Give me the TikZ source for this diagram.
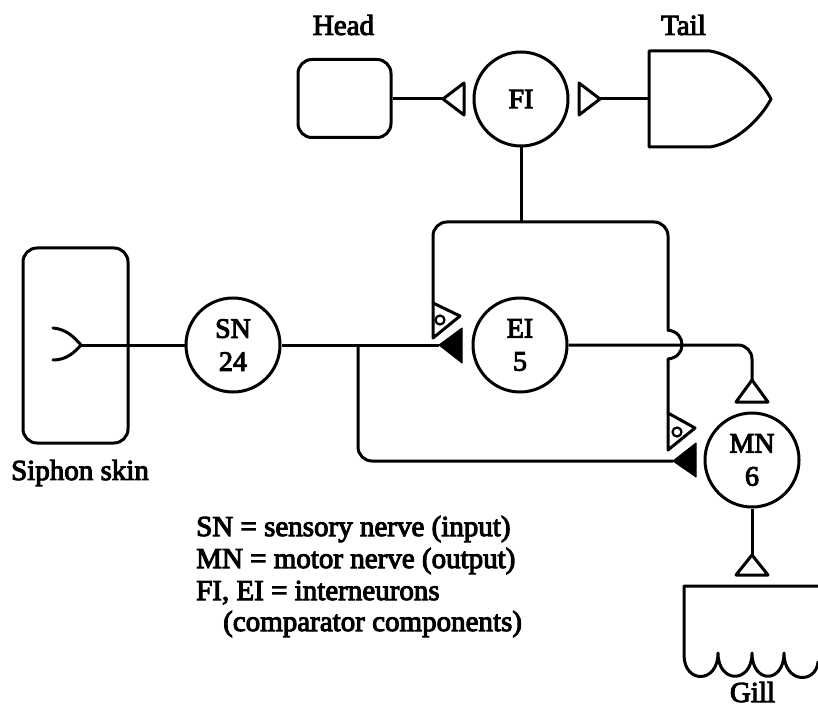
\documentclass[tikz,border=0pt]{standalone}
\usepackage{fontspec}
\setmainfont{Liberation Serif}[FakeBold=3.5]
\newcommand{\nudged}[1]{\raisebox{-2pt}{#1}}
\tikzset{
  ln/.style={line width=3pt,line join=round},
  neuron/.style={circle,draw,line width=3pt,minimum size=94pt,inner sep=0pt,align=center,font=\fontsize{28}{33}\selectfont},
  organ/.style={draw,line width=3pt,rounded corners=14pt,inner sep=0pt},
  lab/.style={inner sep=0pt,font=\fontsize{29}{34}\selectfont},
  opent/.style={draw,line width=3pt,line join=round},
  solidt/.style={fill=black,draw,line width=1pt,line join=round},
  dot/.style={circle,draw,line width=2.2pt,minimum size=9pt,inner sep=0pt}
}
\begin{document}
\begin{tikzpicture}[x=1pt,y=-1pt]
\useasboundingbox (0,0) rectangle (818,708);
% neurons
\node[neuron] (FI) at (521,99) {\nudged{FI}};
\node[neuron] (EI) at (520,345) {\nudged{EI}\\\nudged{5}};
\node[neuron] (SN) at (233,345) {\nudged{SN}\\\nudged{24}};
\node[neuron] (MN) at (752,460) {\nudged{MN}\\\nudged{6}};
% organs
\node[organ,minimum width=93pt,minimum height=78pt] (head) at (344.5,98.5) {};
\node[organ,minimum width=105pt,minimum height=195pt] (skin) at (75.5,345.5) {};
% labels
\node[lab] (lhead) at (343.5,25) {Head};
\node[lab] (ltail) at (683.5,25) {Tail};
\node[lab] (lskin) at (80,473) {Siphon skin};
\node[lab,anchor=base] (lgill) at (752.5,702) {Gill};
\node[lab,anchor=base west] (k1) at (196,536) {SN = sensory nerve (input)};
\node[lab,anchor=base west] (k2) at (196,568) {MN = motor nerve (output)};
\node[lab,anchor=base west] (k3) at (196,600) {FI, EI = interneurons};
\node[lab,anchor=base west] (k4) at (223,631) {(comparator components)};
% tail
\coordinate (tailw) at (649,99);
\draw[ln] (649,51) -- (710,51) .. controls (735,55) and (760,78) .. (771,99) .. controls (760,120) and (735,143) .. (710,147) -- (649,147) -- cycle;
% gill
\draw[ln,line cap=round] (818,586) -- (684,586) -- (684,655)
  .. controls (684,684) and (718,684) .. (718,653)
  .. controls (718,684) and (752,684) .. (752,653)
  .. controls (752,684) and (784,684) .. (784,653)
  .. controls (784,684) and (816,684) .. (818,662);
% synapse end points
\coordinate (hs) at (443,99);
\coordinate (ts) at (600,99);
\coordinate (es) at (439,345);
\coordinate (ms) at (673,461);
\coordinate (et) at (752,380);
\coordinate (gt) at (752,555);
\coordinate (branch) at (358,345);
\coordinate (fork) at (81,345);
\coordinate (loop) at (521,222);
\coordinate (lt) at (433,303);
\coordinate (rt) at (668,413);
% open triangles
\draw[opent] (hs) -- (464,83) -- (464,115) -- cycle;
\draw[opent] (ts) -- (579,83) -- (579,115) -- cycle;
\draw[opent] (et) -- (736,402) -- (768,402) -- cycle;
\draw[opent] (gt) -- (736,575) -- (768,575) -- cycle;
\draw[opent] (lt) -- (460,316) -- (433,338) -- cycle;
\draw[opent] (rt) -- (695,428) -- (668,450) -- cycle;
\node[dot] (d1) at (440,320) {};
\node[dot] (d2) at (677,432) {};
% solid triangles
\draw[solidt] (es) -- (462,328) -- (462,363) -- cycle;
\draw[solidt] (ms) -- (696,443) -- (696,477) -- cycle;
% connectors
\draw[ln] (head.east |- hs) -- (hs);
\draw[ln] (ts) -- (tailw);
\draw[ln] (FI) -- (loop);
\draw[ln] (SN) -- (es);
\draw[ln] (SN) -- (fork);
\draw[ln,line cap=round] (53,328) .. controls (66,329) and (74,337) .. (fork) .. controls (74,353) and (66,360) .. (53,360);
\draw[ln,rounded corners=14pt] (loop) -- (433,222) -- (lt);
\draw[ln,rounded corners=14pt] (loop) -- (668,222) -- (668,330);
\draw[ln] (667,330) .. controls (678,331) and (682,338) .. (682,345) .. controls (682,352) and (677,358) .. (668,359) -- (rt);
\draw[ln,rounded corners=14pt] (EI) -- (752,345) -- (et);
\draw[ln,rounded corners=14pt] (branch) -- (358,461) -- (ms);
\draw[ln] (MN) -- (gt);
\end{tikzpicture}
\end{document}
